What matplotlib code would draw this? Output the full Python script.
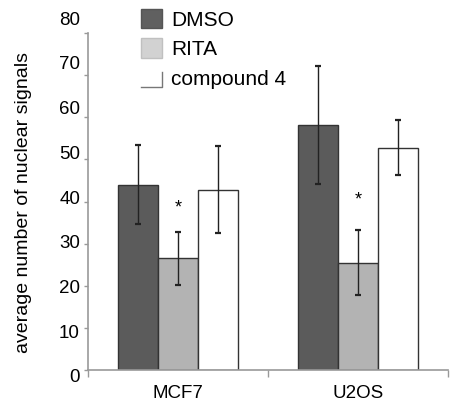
import matplotlib.pyplot as plt
import numpy as np
from matplotlib.patches import Patch
from matplotlib.lines import Line2D
from matplotlib.legend_handler import HandlerBase
from matplotlib import transforms

plt.rcParams['font.family'] = ['Liberation Sans', 'DejaVu Sans']

cells = ["MCF7", "U2OS"]
series = ["DMSO", "RITA", "compound 4"]
means = {
    "DMSO": [44, 58.2],
    "RITA": [26.5, 25.5],
    "compound 4": [42.8, 52.8],
}
errs = {
    "DMSO": [9.3, 14.0],
    "RITA": [6.3, 7.7],
    "compound 4": [10.3, 6.6],
}
colors = {"DMSO": "#5b5b5b", "RITA": "#b3b3b3", "compound 4": "#ffffff"}
legend_colors = {"DMSO": "#606060", "RITA": "#d2d2d2"}
yticks = list(range(0, 81, 10))
star_y = [38.5, 40.3]


class LHandler(HandlerBase):
    # white box drawn only by its right and bottom edges
    def create_artists(self, legend, orig_handle, xdescent, ydescent, width, height, fontsize, trans):
        x0, y0 = -xdescent, -ydescent
        ln = Line2D([x0, x0 + width, x0 + width], [y0, y0, y0 + height * 0.8],
                    color="#777777", lw=1.0, transform=trans)
        return [ln]


fig = plt.figure(figsize=(4.53, 4.03), dpi=100)
ax = fig.add_axes([0.194, 0.082, 0.795, 0.836])

x = np.arange(len(cells))
w = 0.222
for i, s in enumerate(series):
    pos = x + (i - 1) * w
    ax.bar(pos, means[s], width=w, color=colors[s], edgecolor="#333333", linewidth=1.0, zorder=2)
    ax.errorbar(pos, means[s], yerr=errs[s], fmt="none", ecolor="#222222",
                elinewidth=1.0, capsize=2.2, capthick=1.6, zorder=3)

for xi, yi in zip(x, star_y):
    ax.text(xi, yi, "*", ha="center", va="center", fontsize=13)

ax.set_xlim(-0.5, 1.5)
ax.set_ylim(0, 80)
ax.set_yticks(yticks)
ax.set_yticklabels([])
ax.tick_params(axis="y", length=3, width=1, color="#999999")
# tick labels in the original sit on a slightly stretched scale
lab_trans = transforms.blended_transform_factory(fig.transFigure, ax.transData)
for t in yticks:
    ax.text(80 / 453, t * 1.062 - 1.9, str(t), transform=lab_trans,
            ha="right", va="center", fontsize=13.5)

ax.set_xticks(x)
ax.set_xticklabels(cells, fontsize=13.5)
ax.tick_params(axis="x", which="major", length=0, pad=11)
ax.set_xticks([-0.5, 0.5, 1.5], minor=True)
ax.tick_params(axis="x", which="minor", length=5, width=1, color="#999999")
for sp in ["top", "right"]:
    ax.spines[sp].set_visible(False)
for sp in ["left", "bottom"]:
    ax.spines[sp].set_color("#999999")
    ax.spines[sp].set_linewidth(1.2)

ax.set_ylabel("average number of nuclear signals", fontsize=14)
ax.yaxis.set_label_coords(-0.156, 0.498)

handles = [Patch(facecolor=legend_colors["DMSO"], edgecolor="#555555", label="DMSO"),
           Patch(facecolor=legend_colors["RITA"], edgecolor="#c0c0c0", label="RITA"),
           Patch(facecolor="none", edgecolor="none", label="compound 4")]
ax.legend(handles=handles, loc="upper left", bbox_to_anchor=(0.147, 1.072), frameon=False,
          fontsize=15, handlelength=1.0, handleheight=1.05, labelspacing=0.42,
          handletextpad=0.45, borderpad=0, borderaxespad=0,
          handler_map={handles[2]: LHandler()})

fig.savefig("out.png", dpi=100)
